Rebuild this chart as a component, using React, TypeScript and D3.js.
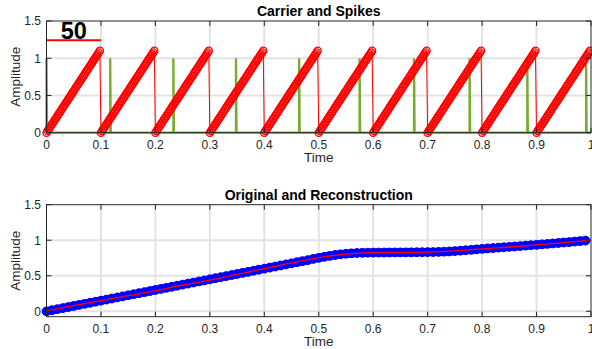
import React from "react";
import * as d3 from "d3";

// ---------- data ----------
const xTicks = [0, 0.1, 0.2, 0.3, 0.4, 0.5, 0.6, 0.7, 0.8, 0.9, 1];
const xTickLabels = ["0", "0.1", "0.2", "0.3", "0.4", "0.5", "0.6", "0.7", "0.8", "0.9", "1"];
const yTicks = [0, 0.5, 1, 1.5];
const yTickLabels = ["0", "0.5", "1", "1.5"];

// carrier: one ramp period (sample values), repeated at each period start
const carrierPeriodStarts = [0, 0.1, 0.2, 0.3, 0.4, 0.5, 0.6, 0.7, 0.8, 0.9];
const carrierSampleStep = 0.002;
const carrierRamp = [
  0, 0.022, 0.045, 0.067, 0.09, 0.112, 0.135, 0.157, 0.18, 0.202,
  0.224, 0.247, 0.269, 0.292, 0.314, 0.337, 0.359, 0.382, 0.404, 0.427,
  0.449, 0.471, 0.494, 0.516, 0.539, 0.561, 0.584, 0.606, 0.629, 0.651,
  0.673, 0.696, 0.718, 0.741, 0.763, 0.786, 0.808, 0.831, 0.853, 0.876,
  0.898, 0.92, 0.943, 0.965, 0.988, 1.01, 1.033, 1.055, 1.078, 1.1,
];

// spike times (height 1)
const spikeTimes = [0, 0.117, 0.233, 0.348, 0.464, 0.575, 0.675, 0.777, 0.883, 0.991];
const spikeHeight = 1;
const spikeWidth = 0.001;

// legend-like annotation
const annotationText = "50";
const annotationLine = [[0, 1.24], [0.1, 1.24]];

// original signal, sampled every 0.01 from t=0
const originalStep = 0.01;
const originalValues = [
  0, 0.015, 0.03, 0.045, 0.06, 0.075, 0.09, 0.105, 0.12, 0.135,
  0.15, 0.165, 0.18, 0.195, 0.21, 0.225, 0.24, 0.255, 0.27, 0.285,
  0.3, 0.315, 0.33, 0.345, 0.36, 0.375, 0.39, 0.405, 0.42, 0.435,
  0.45, 0.465, 0.48, 0.495, 0.51, 0.525, 0.54, 0.555, 0.57, 0.585,
  0.6, 0.615, 0.63, 0.645, 0.66, 0.675, 0.69, 0.705, 0.72, 0.737,
  0.752, 0.767, 0.78, 0.792, 0.802, 0.81, 0.816, 0.82, 0.823, 0.825,
  0.826, 0.827, 0.827, 0.828, 0.828, 0.829, 0.829, 0.83, 0.831, 0.832,
  0.833, 0.834, 0.836, 0.839, 0.842, 0.847, 0.853, 0.859, 0.865, 0.872,
  0.879, 0.885, 0.89, 0.896, 0.901, 0.907, 0.912, 0.918, 0.924, 0.93,
  0.935, 0.942, 0.948, 0.955, 0.961, 0.968, 0.974, 0.981, 0.988, 0.995,
];

// reconstruction
const reconTimes = [0, 0.05, 0.1, 0.15, 0.2, 0.25, 0.3, 0.35, 0.4, 0.45, 0.5, 0.55, 0.6, 0.65, 0.7, 0.75, 0.8, 0.85, 0.9, 0.95, 1.0];
const reconValues = [0.01, 0.08, 0.15, 0.22, 0.29, 0.37, 0.44, 0.52, 0.6, 0.68, 0.755, 0.805, 0.826, 0.829, 0.833, 0.85, 0.878, 0.905, 0.935, 0.967, 1.0];

// ---------- layout ----------
const W = 592;
const H = 349;
const LEFT = 46.5;
const RIGHT = 591;
const FONT = "'Liberation Sans', Arial, Helvetica, sans-serif";
const AX = "#262626";
const GRID = "#e3e3e3";

type Panel = { top: number; bottom: number; yDomain: [number, number]; title: string };

const topPanel: Panel = { top: 21, bottom: 132.7, yDomain: [0, 1.5], title: "Carrier and Spikes" };
const botPanel: Panel = { top: 204.7, bottom: 316.7, yDomain: [-0.076, 1.5], title: "Original and Reconstruction" };

function Axes({ p, x, y, children }: { p: Panel; x: d3.ScaleLinear<number, number>; y: d3.ScaleLinear<number, number>; children: React.ReactNode }) {
  const tl = 5;
  return (
    <g>
      {/* grid */}
      {xTicks.filter((t) => t > 0 && t < 1).map((t) => (
        <line key={"gx" + t} x1={x(t)} x2={x(t)} y1={p.top} y2={p.bottom} stroke={GRID} strokeWidth={2} />
      ))}
      {yTicks.filter((t) => y(t) < p.bottom - 1 && y(t) > p.top + 1).map((t) => (
        <line key={"gy" + t} x1={LEFT} x2={RIGHT} y1={y(t)} y2={y(t)} stroke={GRID} strokeWidth={2} />
      ))}
      {children}
      {/* box */}
      <rect x={LEFT} y={p.top} width={RIGHT - LEFT} height={p.bottom - p.top} fill="none" stroke={AX} strokeWidth={1} />
      {/* ticks */}
      {xTicks.map((t) => (
        <g key={"tx" + t}>
          <line x1={x(t)} x2={x(t)} y1={p.bottom} y2={p.bottom - tl} stroke={AX} strokeWidth={1} />
          <line x1={x(t)} x2={x(t)} y1={p.top} y2={p.top + tl} stroke={AX} strokeWidth={1} />
        </g>
      ))}
      {yTicks.map((t) => (
        <g key={"ty" + t}>
          <line x1={LEFT} x2={LEFT + tl} y1={y(t)} y2={y(t)} stroke={AX} strokeWidth={1} />
          <line x1={RIGHT} x2={RIGHT - tl} y1={y(t)} y2={y(t)} stroke={AX} strokeWidth={1} />
        </g>
      ))}
      {/* tick labels */}
      {xTicks.map((t, i) => (
        <text key={"lx" + t} x={x(t)} y={p.bottom + 16.3} textAnchor="middle" fontSize={12} fontFamily={FONT} fill={AX}>
          {xTickLabels[i]}
        </text>
      ))}
      {yTicks.map((t, i) => (
        <text key={"ly" + t} x={LEFT - 5.5} y={y(t) + 4.3} textAnchor="end" fontSize={12} fontFamily={FONT} fill={AX}>
          {yTickLabels[i]}
        </text>
      ))}
      <text x={(LEFT + RIGHT) / 2} y={p.bottom + 29.3} textAnchor="middle" fontSize={13.5} fontFamily={FONT} fill={AX}>
        Time
      </text>
      <text
        transform={`translate(19.5,${(p.top + p.bottom) / 2}) rotate(-90)`}
        textAnchor="middle"
        fontSize={13.5}
        fontFamily={FONT}
        fill={AX}
      >
        Amplitude
      </text>
      <text x={(LEFT + RIGHT) / 2} y={p.top - 4.7} textAnchor="middle" fontSize={14} fontWeight="bold" fontFamily={FONT} fill="#000">
        {p.title}
      </text>
    </g>
  );
}

export default function App() {
  const x = d3.scaleLinear().domain([0, 1]).range([LEFT, RIGHT]);
  const yT = d3.scaleLinear().domain(topPanel.yDomain).range([topPanel.bottom, topPanel.top]);
  const yB = d3.scaleLinear().domain(botPanel.yDomain).range([botPanel.bottom, botPanel.top]);

  const carrier: [number, number][] = [];
  carrierPeriodStarts.forEach((s) => carrierRamp.forEach((v, i) => carrier.push([s + i * carrierSampleStep, v])));

  const spikes: [number, number][] = [];
  spikeTimes.forEach((s) => {
    spikes.push([s, 0], [s, spikeHeight], [s + spikeWidth, 0]);
  });
  spikes.push([1, 0]);

  const lineT = d3.line<[number, number]>().x((d) => x(d[0])).y((d) => yT(d[1]));
  const lineB = d3.line<[number, number]>().x((d) => x(d[0])).y((d) => yB(d[1]));

  const original: [number, number][] = originalValues.map((v, i) => [i * originalStep, v]);
  const recon: [number, number][] = reconTimes.map((t, i) => [t, reconValues[i]]);
  const lineRecon = d3.line<[number, number]>().x((d) => x(d[0])).y((d) => yB(d[1])).curve(d3.curveMonotoneX);

  return (
    <svg width={W} height={H} style={{ position: "absolute", left: 0, top: 0, background: "#fff" }}>
      <rect x={0} y={0} width={W} height={H} fill="#fff" />
      <Axes p={topPanel} x={x} y={yT}>
        <path d={lineT(spikes) || ""} fill="none" stroke="#77AC30" strokeWidth={2.3} />
        <path d={lineT(carrier) || ""} fill="none" stroke="#ff0000" strokeWidth={1} />
        {carrier.map((d, i) => (
          <circle key={i} cx={x(d[0])} cy={yT(d[1])} r={3.6} fill="none" stroke="#ff0000" strokeWidth={1.3} />
        ))}
        <path d={lineT(annotationLine as [number, number][]) || ""} fill="none" stroke="#ff0000" strokeWidth={2} />
        <text x={x(0.05)} y={39} textAnchor="middle" fontSize={23.5} fontWeight="bold" fontFamily={FONT} fill="#000">
          {annotationText}
        </text>
      </Axes>
      <Axes p={botPanel} x={x} y={yB}>
        <path d={lineB(original) || ""} fill="none" stroke="#0000ff" strokeWidth={8} strokeLinejoin="round" />
        {original.map((d, i) => (
          <circle key={i} cx={x(d[0])} cy={yB(d[1])} r={4.4} fill="#0000ff" stroke="#0000ff" strokeWidth={1} />
        ))}
        <path d={lineRecon(recon) || ""} fill="none" stroke="#ff0000" strokeWidth={1.3} />
      </Axes>
    </svg>
  );
}
